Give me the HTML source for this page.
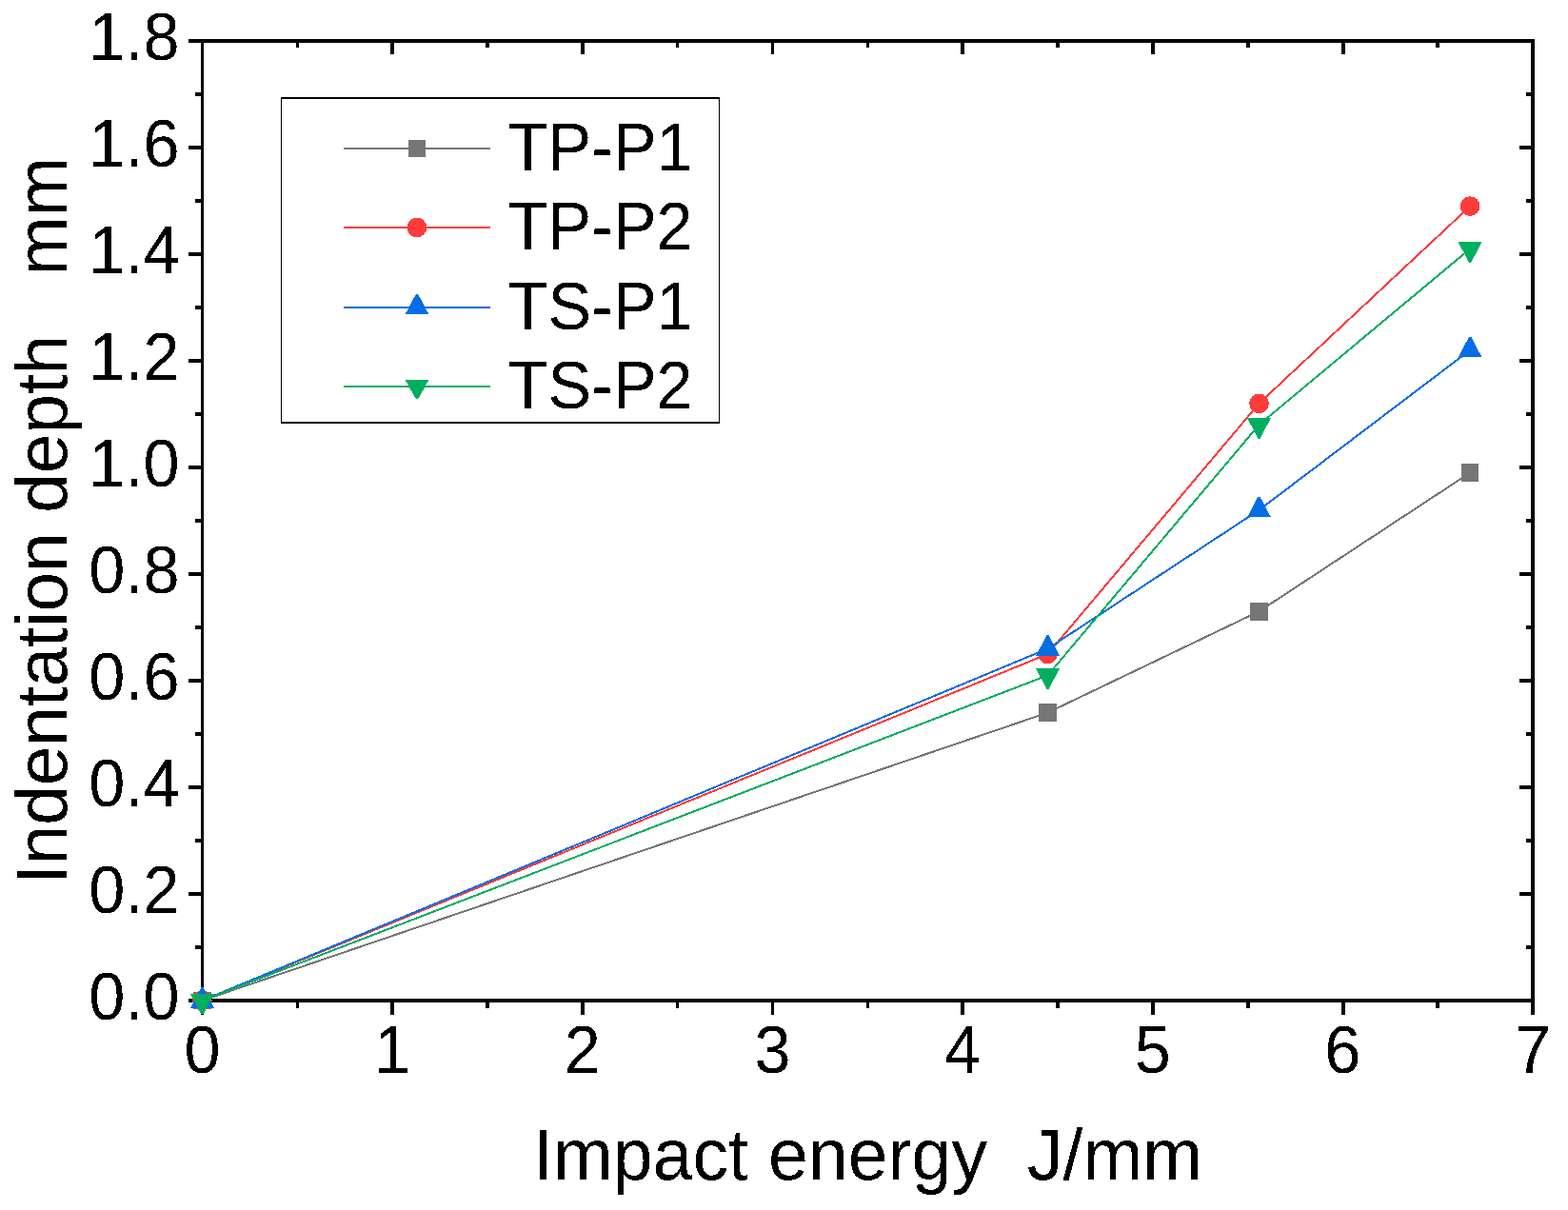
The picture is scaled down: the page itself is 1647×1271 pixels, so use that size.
<!DOCTYPE html>
<html lang="en">
<head>
<meta charset="utf-8">
<title>Indentation depth vs impact energy</title>
<style>
html,body{margin:0;padding:0;background:#fff;}
body{width:1647px;height:1271px;overflow:hidden;}
svg{display:block;}
text{font-family:"Liberation Sans",sans-serif;fill:#000;filter:url(#crisp);}
.tk{font-size:71.2px;}
.tt{font-size:75.3px;}
.lg{font-size:71.2px;}
</style>
</head>
<body>
<svg width="1647" height="1271" viewBox="0 0 1647 1271">
<defs>
<filter id="crisp" x="-10%" y="-10%" width="120%" height="120%" color-interpolation-filters="sRGB">
<feComponentTransfer><feFuncA type="discrete" tableValues="0 1"/></feComponentTransfer>
</filter>
</defs>
<rect x="0" y="0" width="1647" height="1271" fill="#fff"/>

<g fill="#000" shape-rendering="crispEdges">
<rect x="211" y="41" width="1401" height="4"/>
<rect x="211" y="1049" width="1401" height="4"/>
<rect x="211" y="41" width="3" height="1012"/>
<rect x="1608" y="41" width="4" height="1012"/>
<rect x="211" y="1053" width="3" height="13"/>
<rect x="311" y="1053" width="3" height="6"/>
<rect x="311" y="45" width="3" height="5"/>
<rect x="410" y="1053" width="4" height="13"/>
<rect x="410" y="45" width="4" height="12"/>
<rect x="510" y="1053" width="4" height="6"/>
<rect x="510" y="45" width="4" height="5"/>
<rect x="610" y="1053" width="4" height="13"/>
<rect x="610" y="45" width="4" height="12"/>
<rect x="710" y="1053" width="3" height="6"/>
<rect x="710" y="45" width="3" height="5"/>
<rect x="810" y="1053" width="3" height="13"/>
<rect x="810" y="45" width="3" height="12"/>
<rect x="910" y="1053" width="3" height="6"/>
<rect x="910" y="45" width="3" height="5"/>
<rect x="1009" y="1053" width="4" height="13"/>
<rect x="1009" y="45" width="4" height="12"/>
<rect x="1109" y="1053" width="4" height="6"/>
<rect x="1109" y="45" width="4" height="5"/>
<rect x="1209" y="1053" width="4" height="13"/>
<rect x="1209" y="45" width="4" height="12"/>
<rect x="1309" y="1053" width="4" height="6"/>
<rect x="1309" y="45" width="4" height="5"/>
<rect x="1409" y="1053" width="4" height="13"/>
<rect x="1409" y="45" width="4" height="12"/>
<rect x="1508" y="1053" width="4" height="6"/>
<rect x="1508" y="45" width="4" height="5"/>
<rect x="1608" y="1053" width="4" height="13"/>
<rect x="198" y="1049" width="13" height="4"/>
<rect x="205" y="993" width="6" height="4"/>
<rect x="1603" y="993" width="5" height="4"/>
<rect x="198" y="937" width="13" height="4"/>
<rect x="1596" y="937" width="12" height="4"/>
<rect x="205" y="881" width="6" height="4"/>
<rect x="1603" y="881" width="5" height="4"/>
<rect x="198" y="825" width="13" height="4"/>
<rect x="1596" y="825" width="12" height="4"/>
<rect x="205" y="769" width="6" height="4"/>
<rect x="1603" y="769" width="5" height="4"/>
<rect x="198" y="713" width="13" height="4"/>
<rect x="1596" y="713" width="12" height="4"/>
<rect x="205" y="657" width="6" height="4"/>
<rect x="1603" y="657" width="5" height="4"/>
<rect x="198" y="601" width="13" height="4"/>
<rect x="1596" y="601" width="12" height="4"/>
<rect x="205" y="545" width="6" height="4"/>
<rect x="1603" y="545" width="5" height="4"/>
<rect x="198" y="489" width="13" height="4"/>
<rect x="1596" y="489" width="12" height="4"/>
<rect x="205" y="433" width="6" height="4"/>
<rect x="1603" y="433" width="5" height="4"/>
<rect x="198" y="377" width="13" height="4"/>
<rect x="1596" y="377" width="12" height="4"/>
<rect x="205" y="321" width="6" height="4"/>
<rect x="1603" y="321" width="5" height="4"/>
<rect x="198" y="265" width="13" height="4"/>
<rect x="1596" y="265" width="12" height="4"/>
<rect x="205" y="209" width="6" height="4"/>
<rect x="1603" y="209" width="5" height="4"/>
<rect x="198" y="153" width="13" height="4"/>
<rect x="1596" y="153" width="12" height="4"/>
<rect x="205" y="97" width="6" height="4"/>
<rect x="1603" y="97" width="5" height="4"/>
<rect x="198" y="41" width="13" height="4"/>
</g>
<g shape-rendering="crispEdges"><polyline points="212.50,1051.00 1100.51,748.60 1322.51,642.20 1544.12,496.60" fill="none" stroke="#767676" stroke-width="2" stroke-linejoin="round"/><rect x="203.15" y="1041.65" width="18.7" height="18.7" fill="#767676"/><rect x="1091.16" y="739.25" width="18.7" height="18.7" fill="#767676"/><rect x="1313.16" y="632.85" width="18.7" height="18.7" fill="#767676"/><rect x="1534.77" y="487.25" width="18.7" height="18.7" fill="#767676"/></g>
<g shape-rendering="crispEdges"><polyline points="212.50,1051.00 1100.51,687.00 1322.51,423.80 1544.12,216.60" fill="none" stroke="#ff3b3b" stroke-width="2" stroke-linejoin="round"/><circle cx="212.50" cy="1051.00" r="10.3" fill="#ff3b3b"/><circle cx="1100.51" cy="687.00" r="10.3" fill="#ff3b3b"/><circle cx="1322.51" cy="423.80" r="10.3" fill="#ff3b3b"/><circle cx="1544.12" cy="216.60" r="10.3" fill="#ff3b3b"/></g>
<g shape-rendering="crispEdges"><polyline points="212.50,1051.00 1100.51,681.40 1322.51,535.80 1544.12,367.80" fill="none" stroke="#056de5" stroke-width="2" stroke-linejoin="round"/><polygon points="211.50,1036.80 213.50,1036.80 225.00,1058.60 200.00,1058.60" fill="#056de5"/><polygon points="1099.51,667.20 1101.51,667.20 1113.01,689.00 1088.01,689.00" fill="#056de5"/><polygon points="1321.51,521.60 1323.51,521.60 1335.01,543.40 1310.01,543.40" fill="#056de5"/><polygon points="1543.12,353.60 1545.12,353.60 1556.62,375.40 1531.62,375.40" fill="#056de5"/></g>
<g shape-rendering="crispEdges"><polyline points="212.50,1051.00 1100.51,709.40 1322.51,446.20 1544.12,261.40" fill="none" stroke="#00ae60" stroke-width="2" stroke-linejoin="round"/><polygon points="211.50,1065.40 213.50,1065.40 225.00,1043.80 200.00,1043.80" fill="#00ae60"/><polygon points="1099.51,723.80 1101.51,723.80 1113.01,702.20 1088.01,702.20" fill="#00ae60"/><polygon points="1321.51,460.60 1323.51,460.60 1335.01,439.00 1310.01,439.00" fill="#00ae60"/><polygon points="1543.12,275.80 1545.12,275.80 1556.62,254.20 1531.62,254.20" fill="#00ae60"/></g>
<g class="tk" text-anchor="middle">
<text transform="translate(212.50,1127) scale(0.962,1)">0</text>
<text transform="translate(412.14,1127) scale(0.962,1)">1</text>
<text transform="translate(611.79,1127) scale(0.962,1)">2</text>
<text transform="translate(811.43,1127) scale(0.962,1)">3</text>
<text transform="translate(1011.07,1127) scale(0.962,1)">4</text>
<text transform="translate(1210.71,1127) scale(0.962,1)">5</text>
<text transform="translate(1410.36,1127) scale(0.962,1)">6</text>
<text transform="translate(1610.00,1127) scale(0.962,1)">7</text>
</g>
<g class="tk" text-anchor="end">
<text transform="translate(188.6,1071.00) scale(0.962,1)">0.0</text>
<text transform="translate(188.6,959.00) scale(0.962,1)">0.2</text>
<text transform="translate(188.6,847.00) scale(0.962,1)">0.4</text>
<text transform="translate(188.6,735.00) scale(0.962,1)">0.6</text>
<text transform="translate(188.6,623.00) scale(0.962,1)">0.8</text>
<text transform="translate(188.6,511.00) scale(0.962,1)">1.0</text>
<text transform="translate(188.6,399.00) scale(0.962,1)">1.2</text>
<text transform="translate(188.6,287.00) scale(0.962,1)">1.4</text>
<text transform="translate(188.6,175.00) scale(0.962,1)">1.6</text>
<text transform="translate(188.6,63.00) scale(0.962,1)">1.8</text>
</g>
<text class="tt" x="560" y="1239" xml:space="preserve" style="white-space:pre">Impact energy  J/mm</text>
<text class="tt" transform="translate(70,929) rotate(-90) scale(0.992,1)" xml:space="preserve" style="white-space:pre">Indentation depth   mm</text>
<g shape-rendering="crispEdges">
<rect x="295" y="102" width="461" height="343" fill="#000"/>
<rect x="296" y="104" width="459" height="339" fill="#fff"/>
<rect x="361" y="155" width="154" height="2" fill="#767676"/>
<rect x="361" y="238" width="154" height="2" fill="#ff3b3b"/>
<rect x="361" y="322" width="154" height="2" fill="#056de5"/>
<rect x="361" y="405" width="154" height="2" fill="#00ae60"/>
</g>
<g shape-rendering="crispEdges"><rect x="428.65" y="146.65" width="18.7" height="18.7" fill="#767676"/></g>
<text class="lg" transform="translate(533.6,179) scale(0.962,1)">TP-P1</text>
<g shape-rendering="crispEdges"><circle cx="438.00" cy="239.00" r="10.3" fill="#ff3b3b"/></g>
<text class="lg" transform="translate(533.6,262) scale(0.962,1)">TP-P2</text>
<g shape-rendering="crispEdges"><polygon points="437.00,308.80 439.00,308.80 450.50,330.30 425.50,330.30" fill="#056de5"/></g>
<text class="lg" transform="translate(533.6,346) scale(0.962,1)">TS-P1</text>
<g shape-rendering="crispEdges"><polygon points="437.00,419.40 439.00,419.40 450.50,398.80 425.50,398.80" fill="#00ae60"/></g>
<text class="lg" transform="translate(533.6,429) scale(0.962,1)">TS-P2</text>
</svg>
</body>
</html>
